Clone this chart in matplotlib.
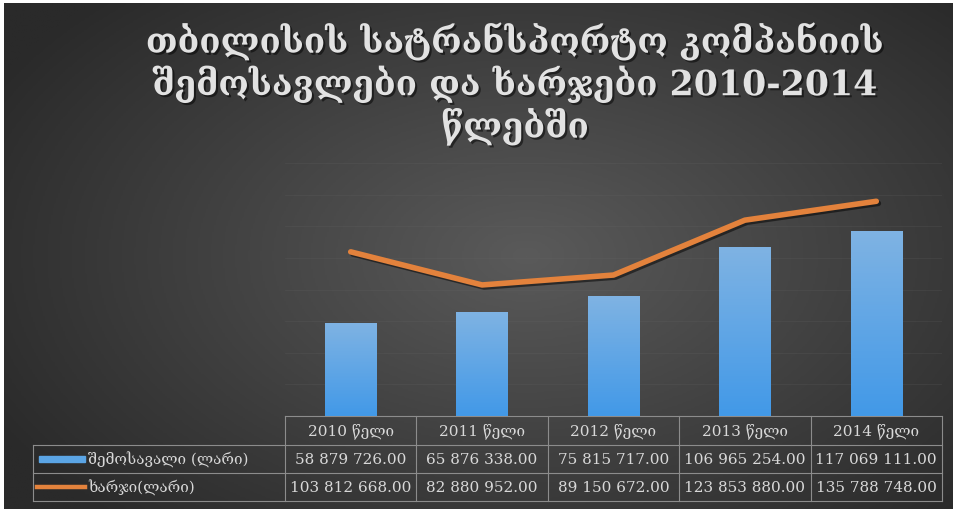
import numpy as np
import matplotlib.pyplot as plt
from matplotlib import patheffects as pe
from matplotlib.colors import LinearSegmentedColormap
from matplotlib.patches import Rectangle
from matplotlib.transforms import blended_transform_factory

years = ["2010", "2011", "2012", "2013", "2014"]
col_labels = [y + " წელი" for y in years]
income = [58879726.00, 65876338.00, 75815717.00, 106965254.00, 117069111.00]
expenses = [103812668.00, 82880952.00, 89150672.00, 123853880.00, 135788748.00]
row_labels = ["შემოსავალი (ლარი)", "ხარჯი(ლარი)"]
title = "თბილისის სატრანსპორტო კომპანიის\nშემოსავლები და ხარჯები 2010-2014\nწლებში"

serif = ["DejaVu Serif", "DejaVu Sans"]
text_col = "#d8d8d8"
grid_col = "#8c8c8c"


def fmt(v):
    return f"{v:,.2f}".replace(",", " ")


fig = plt.figure(figsize=(9.54, 5.10), dpi=100)
fig.patch.set_facecolor("white")

# dark radial background
bg = fig.add_axes([4 / 954, 0, 950 / 954, 506 / 510])
bg.set_axis_off()
yy, xx = np.mgrid[0:1:300j, 0:1:560j]
r = np.sqrt(((xx - 0.55) / 0.8) ** 2 + ((yy - 0.5) / 0.9) ** 2)
bg_cmap = LinearSegmentedColormap.from_list("bg", ["#5a5a5a", "#2a2a2a"])
bg.imshow(r, cmap=bg_cmap, vmin=0, vmax=0.8, aspect="auto",
          extent=[0, 1, 0, 1], origin="lower")
bg.set_xlim(0, 1)
bg.set_ylim(0, 1)

ax = fig.add_axes([285 / 954, 93 / 510, 657 / 954, 253 / 510])
ax.patch.set_alpha(0)
x = np.arange(len(years))

bars = ax.bar(x, income, width=0.39, color="#5ba5e5", zorder=2)
grad = np.linspace(0, 1, 100).reshape(-1, 1)
bar_cmap = LinearSegmentedColormap.from_list("bar", ["#4299e8", "#7fb3e3"])
for b in bars:
    bx = b.get_x()
    im = ax.imshow(grad, cmap=bar_cmap, origin="lower", aspect="auto",
                   extent=[bx, bx + b.get_width(), 0, b.get_height()], zorder=2.1)
    im.set_clip_path(b)

ax.plot(x, expenses, color="#e3823c", lw=4, solid_capstyle="round",
        solid_joinstyle="round", zorder=3,
        path_effects=[pe.SimpleLineShadow(offset=(1.5, -1.5), shadow_color="black", alpha=0.5),
                      pe.Normal()])

ax.set_xlim(-0.5, len(years) - 0.5)
ax.set_ylim(0, 160e6)
ax.set_yticks(np.arange(0, 160e6 + 1, 20e6))
ax.grid(axis="y", color="#6a6a6a", lw=0.5, alpha=0.25, zorder=0)
ax.tick_params(length=0, labelleft=False, labelbottom=False)
for s in ax.spines.values():
    s.set_visible(False)

# data table under the plot
tr = blended_transform_factory(ax.transData, ax.transAxes)
label_left = -2.42
rows_y = [0, -0.115, -0.225, -0.336]
kw = dict(color=grid_col, lw=0.8, transform=tr, clip_on=False)
ax.plot([-0.5, 4.5], [rows_y[0]] * 2, **kw)
for yv in rows_y[1:]:
    ax.plot([label_left, 4.5], [yv, yv], **kw)
ax.plot([label_left, label_left], [rows_y[1], rows_y[3]], **kw)
for xv in np.arange(-0.5, 5, 1):
    ax.plot([xv, xv], [rows_y[0], rows_y[3]], **kw)

tkw = dict(transform=tr, color=text_col, fontsize=11, family=serif,
           va="center", clip_on=False)
hy = (rows_y[0] + rows_y[1]) / 2
r1 = (rows_y[1] + rows_y[2]) / 2
r2 = (rows_y[2] + rows_y[3]) / 2
for i in x:
    ax.text(i, hy, col_labels[i], ha="center", **tkw)
    ax.text(i, r1, fmt(income[i]), ha="center", **tkw)
    ax.text(i, r2, fmt(expenses[i]), ha="center", **tkw)

ax.text(label_left + 0.42, r1, row_labels[0], ha="left", **tkw)
ax.text(label_left + 0.42, r2, row_labels[1], ha="left", **tkw)
ax.add_patch(Rectangle((label_left + 0.05, r1 - 0.013), 0.35, 0.026,
                       transform=tr, color="#5ba5e5", clip_on=False))
ax.plot([label_left + 0.03, label_left + 0.4], [r2, r2], color="#e3823c",
        lw=3.2, transform=tr, clip_on=False)

fig.text(0.54, 0.955, title, ha="center", va="top", fontsize=25,
         fontweight="bold", color="#e2e2e2", family=serif, linespacing=1.15,
         path_effects=[pe.withSimplePatchShadow(offset=(1.5, -1.5), shadow_rgbFace="black", alpha=0.5)])

fig.savefig("out.png", dpi=100)
